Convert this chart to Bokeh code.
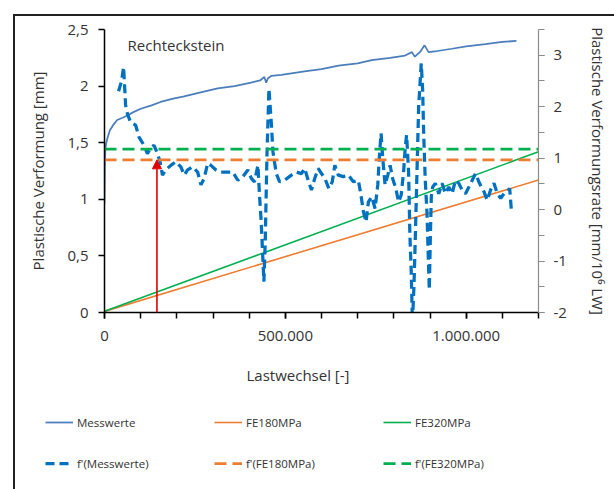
from bokeh.plotting import figure
from bokeh.layouts import column
from bokeh.models import (Range1d, LinearAxis, FixedTicker, Legend, LegendItem,
                          Label, Arrow, NormalHead)
from bokeh.embed import file_html
from bokeh.resources import INLINE

# ---------------- data ----------------
mess_x = [0, 1000, 2500, 5000, 8000, 15000, 25000, 35000, 50000, 63000, 80000, 100000,
          130000, 155000, 190000, 220000, 260000, 313000, 360000, 405000, 430000, 442000,
          447000, 452000, 461000, 489000, 553000, 600000, 647000, 700000, 739000, 790000,
          831000, 850000, 858000, 872000, 885000, 896000, 920000, 961000, 1000000, 1053000,
          1100000, 1139000]
mess_y = [0.96, 1.30, 1.45, 1.50, 1.54, 1.61, 1.66, 1.70, 1.72, 1.74, 1.77, 1.80,
          1.83, 1.86, 1.89, 1.91, 1.94, 1.98, 2.00, 2.03, 2.05, 2.08,
          2.03, 2.07, 2.09, 2.10, 2.13, 2.15, 2.18, 2.20, 2.23, 2.25,
          2.27, 2.30, 2.26, 2.30, 2.36, 2.30, 2.31, 2.33, 2.35, 2.37,
          2.39, 2.40]

deriv_x = [38900, 47200, 52800, 55600, 58300, 63900, 72200, 86100, 95300, 109200,
           118600, 127800, 136900, 146400, 153600, 160300, 169400, 183300, 197200, 211100,
           220300, 229700, 243600, 257500, 266700, 275800, 285300, 294400, 308300, 322200,
           340800, 354700, 368600, 382500, 396400, 405600, 414700, 424200, 428600, 433300,
           437500, 440800, 444400, 449200, 454700, 461100, 465800, 475000, 484200, 498100,
           516700, 530600, 544400, 553600, 563100, 572200, 581400, 590800, 600000, 609200,
           620300, 629700, 636900, 646400, 660300, 674200, 688100, 701900, 709200, 715800,
           723100, 729700, 738900, 748100, 755600, 760300, 764700, 769400, 775800, 783300,
           789700, 796400, 805600, 813100, 820300, 826900, 831400, 835300, 840800, 844400,
           848100, 851400, 855600, 859200, 863900, 868600, 875800, 879700, 882500, 886900,
           891700, 894400, 898100, 900800, 903600, 907500, 914700, 924200, 933300, 942500,
           951900, 961100, 970300, 979700, 988900, 998100, 1007500, 1016700, 1025800, 1036900,
           1049200, 1058300, 1067500, 1076900, 1086100, 1095300, 1104700, 1113900, 1120300, 1125000]
deriv_y = [2.30, 2.50, 2.77, 2.40, 2.03, 1.85, 1.70, 1.64, 1.41, 1.25,
           1.09, 1.19, 1.25, 1.09, 0.93, 0.67, 0.77, 0.86, 0.93, 0.83,
           0.67, 0.77, 0.83, 0.73, 0.48, 0.61, 0.90, 0.86, 0.77, 0.73,
           0.73, 0.73, 0.57, 0.64, 0.77, 0.61, 0.54, 0.86, 0.28, -0.24,
           -0.90, -1.40, -0.63, 1.06, 2.35, 1.70, 1.12, 0.70, 0.54, 0.57,
           0.67, 0.73, 0.70, 0.80, 0.57, 0.38, 0.61, 0.80, 0.70, 0.61,
           0.41, 0.54, 0.86, 0.67, 0.64, 0.67, 0.54, 0.57, 0.28, -0.04,
           -0.24, 0.15, 0.25, 0.02, 0.48, 1.06, 1.48, 0.99, 0.48, 0.67,
           0.86, 0.61, 0.41, 0.15, 0.28, 0.73, 1.19, 1.45, 0.73, -0.50,
           -1.20, -2.20, -1.50, -0.59, 0.70, 2.00, 2.84, 2.32, 1.48, 0.57,
           -0.07, -0.72, -1.56, -0.59, 0.25, 0.44, 0.51, 0.31, 0.51, 0.31,
           0.44, 0.31, 0.57, 0.51, 0.38, 0.31, 0.44, 0.57, 0.70, 0.51,
           0.35, 0.18, 0.38, 0.51, 0.31, 0.22, 0.31, 0.35, 0.41, -0.01]

fe_x = [0, 1200000]
fe180_y = [0.01, 1.17]
fe320_y = [0.01, 1.42]
rate_x = [0, 1200000]
rate_fe180 = [0.967, 0.967]
rate_fe320 = [1.175, 1.175]

marker_x = 145000
marker_rate = 0.967

x_ticks = [0, 500000, 1000000]
x_tick_labels = ["0", "500.000", "1.000.000"]
x_minor = [0, 100000, 200000, 300000, 400000, 500000, 600000, 700000, 800000,
           900000, 1000000, 1100000, 1200000]
left_ticks = [0, 0.5, 1, 1.5, 2, 2.5]
left_tick_labels = ["0", "0,5", "1", "1,5", "2", "2,5"]
right_ticks = [-2, -1, 0, 1, 2, 3]
right_tick_labels = ["-2", "-1", "0", "1", "2", "3"]
right_minor = [-2, -1.5, -1, -0.5, 0, 0.5, 1, 1.5, 2, 2.5, 3, 3.5]

legend_labels = ["Messwerte", "FE180MPa", "FE320MPa",
                 "f'(Messwerte)", "f'(FE180MPa)", "f'(FE320MPa)"]

# ---------------- styles ----------------
FONT = "Open Sans"
TXT = "#333333"
C_MESS, C_180, C_320, C_RATE, C_RED = "#4a7ebb", "#ED7D31", "#00B050", "#0070C0", "#E00000"
styles = [
    dict(line_color=C_MESS, line_width=1.75),
    dict(line_color=C_180, line_width=1.6),
    dict(line_color=C_320, line_width=1.6),
    dict(line_color=C_RATE, line_width=3.25, line_dash="9 5"),
    dict(line_color=C_180, line_width=2.75, line_dash="12 6"),
    dict(line_color=C_320, line_width=2.75, line_dash="12 6"),
]

top_bg = ("linear-gradient(#222222,#222222) 13px 14px / 2px 100% no-repeat, "
          "linear-gradient(#222222,#222222) 13px 14px / 100% 2px no-repeat, #ffffff")
bot_bg = "linear-gradient(#222222,#222222) 13px 0px / 2px 100% no-repeat, #ffffff"

P_H = 352
Q_H = 489 - P_H

# ---------------- main figure ----------------
p = figure(width=614, height=P_H, output_backend="svg", toolbar_location=None,
           x_range=Range1d(0, 1200000), y_range=Range1d(0, 2.5),
           min_border_left=104, min_border_right=76, min_border_top=29,
           min_border_bottom=P_H - 312, styles={"background": top_bg})
p.frame_align = False
p.outline_line_color = None
p.border_fill_color = None
p.background_fill_color = None
p.xgrid.visible = False
p.ygrid.visible = False
p.extra_y_ranges = {"rate": Range1d(-2, 3.5)}

p.line(mess_x, mess_y, **styles[0])
p.line(fe_x, fe180_y, **styles[1])
p.line(fe_x, fe320_y, **styles[2])
p.line(deriv_x, deriv_y, y_range_name="rate", **styles[3])
p.line(rate_x, rate_fe180, y_range_name="rate", **styles[4])
p.line(rate_x, rate_fe320, y_range_name="rate", **styles[5])

p.add_layout(Arrow(x_start=marker_x, y_start=-2, x_end=marker_x, y_end=marker_rate,
                   y_range_name="rate", line_color=C_RED, line_width=1.6,
                   end=NormalHead(size=9, fill_color=C_RED, line_color=C_RED)))

def style_axis(ax, color="#000000", width=1.5):
    ax.axis_line_color = color
    ax.axis_line_width = width
    ax.major_tick_line_color = color
    ax.major_tick_line_width = width
    ax.minor_tick_line_color = color
    ax.minor_tick_line_width = width
    ax.major_tick_out = 6
    ax.major_tick_in = 0
    ax.major_label_text_font = FONT
    ax.major_label_text_font_size = "15px"
    ax.major_label_text_color = TXT
    ax.axis_label_text_font = FONT
    ax.axis_label_text_font_size = "15px"
    ax.axis_label_text_font_style = "normal"
    ax.axis_label_text_color = TXT

xa = p.xaxis[0]
style_axis(xa)
xa.ticker = FixedTicker(ticks=x_ticks, minor_ticks=x_minor)
xa.major_label_overrides = dict(zip(x_ticks, x_tick_labels))
xa.minor_tick_out = 6
xa.minor_tick_in = 0
xa.major_label_standoff = 12

ya = p.yaxis[0]
style_axis(ya)
ya.ticker = FixedTicker(ticks=left_ticks, minor_ticks=[])
ya.major_label_overrides = dict(zip(left_ticks, left_tick_labels))
ya.major_label_standoff = 10
ya.axis_label = "Plastische Verformung [mm]"
ya.axis_label_standoff = 16

ra = LinearAxis(y_range_name="rate")
style_axis(ra, color="#8c8c8c", width=1.2)
ra.ticker = FixedTicker(ticks=right_ticks, minor_ticks=right_minor)
ra.major_label_overrides = dict(zip(right_ticks, right_tick_labels))
ra.minor_tick_out = 6
ra.minor_tick_in = 0
ra.major_label_standoff = 9
ra.axis_label = "Plastische Verformungsrate [mm/10\u2076 LW]"
ra.axis_label_standoff = 18
p.add_layout(ra, "right")

p.add_layout(Label(x=63900, y=2.36, text="Rechteckstein", text_font=FONT,
                   text_font_size="15px", text_color=TXT, text_baseline="middle"))

# ---------------- lower part: x-axis title + legend ----------------
q = figure(width=614, height=Q_H, output_backend="svg", toolbar_location=None,
           x_range=Range1d(0, 614), y_range=Range1d(0, Q_H),
           x_axis_location=None, y_axis_location=None, min_border=0,
           styles={"background": bot_bg})
q.frame_align = False
q.outline_line_color = None
q.border_fill_color = None
q.background_fill_color = None
q.xgrid.visible = False
q.ygrid.visible = False

q.add_layout(Label(x=297.5, y=Q_H - (374 - P_H), text="Lastwechsel [-]", text_font=FONT,
                   text_font_size="15px", text_color=TXT, text_baseline="middle",
                   text_align="center"))

nan = float("nan")
keys = [q.line([nan], [nan], **s) for s in styles]

legend = Legend(items=[LegendItem(label=lab, renderers=[r])
                       for lab, r in zip(legend_labels, keys)],
                orientation="horizontal", ncols=3,
                location=(45, Q_H - (412 - P_H) - 61),
                glyph_width=28, glyph_height=20, label_height=20, label_width=116,
                label_standoff=4, spacing=21, padding=0, margin=0,
                border_line_alpha=0, background_fill_alpha=0,
                label_text_font=FONT, label_text_font_size="11.5px",
                label_text_color=TXT)
q.add_layout(legend, "center")

layout = column(p, q, spacing=0)
open("out.html", "w").write(file_html(layout, INLINE))
